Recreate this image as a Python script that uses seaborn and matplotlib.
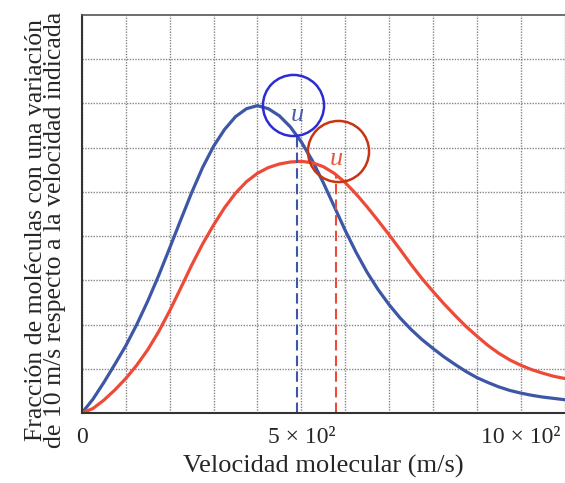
import numpy as np
import pandas as pd
import seaborn as sns
import matplotlib.pyplot as plt

# ---- data (y in grid units) ----
speed = list(range(0, 1101, 25))
frac_blue = [0, 0.31, 0.69, 1.10, 1.52, 2.00, 2.53, 3.11, 3.73, 4.36, 4.98, 5.55,
             6.03, 6.41, 6.70, 6.88, 6.95, 6.88, 6.72, 6.47, 6.13, 5.71, 5.21, 4.67,
             4.13, 3.63, 3.18, 2.79, 2.45, 2.15, 1.89, 1.66, 1.46, 1.27, 1.10, 0.94,
             0.80, 0.69, 0.59, 0.51, 0.45, 0.40, 0.36, 0.33, 0.30]
frac_red = [0, 0.10, 0.29, 0.52, 0.78, 1.08, 1.43, 1.84, 2.31, 2.82, 3.34, 3.82,
            4.25, 4.64, 4.97, 5.23, 5.42, 5.55, 5.63, 5.675, 5.69, 5.66, 5.57, 5.42,
            5.21, 4.95, 4.66, 4.35, 4.03, 3.70, 3.36, 3.04, 2.75, 2.47, 2.21, 1.96,
            1.74, 1.53, 1.35, 1.20, 1.08, 0.98, 0.90, 0.83, 0.78]

u_speed = [490, 580]          # rms speed markers (blue, red)
u_height = [6.27, 5.37]       # where the dashed line meets the curve
circle_x = [480, 584]
circle_y = [6.97, 5.93]
label_y = [6.73, 5.75]

xtick_pos = [0, 500, 1000]
xtick_labels = ["0", "5 × 10²", "10 × 10²"]

curve_colors = ["#3d57a6", "#ee4a38"]
circle_colors = ["#2c2cd2", "#c93410"]
text_colors = ["#4a5fa8", "#e8573f"]

df = pd.DataFrame({
    "speed": speed * 2,
    "frac": frac_blue + frac_red,
    "gas": ["blue"] * len(speed) + ["red"] * len(speed),
})

sns.set_style("white")
plt.rcParams["font.family"] = ["Liberation Serif", "DejaVu Serif"]

fig = plt.figure(figsize=(5.65, 4.83), dpi=100)
ax = fig.add_axes([0.145, 0.145, 0.855, 0.824])

# grid
ax.set_xticks(np.arange(100, 1101, 100), minor=True)
ax.set_yticks(np.arange(1, 9))
ax.set_yticklabels([])
ax.grid(True, which="both", color="#858585", linestyle=(0, (1, 1)), linewidth=1.0)
ax.set_axisbelow(True)

sns.lineplot(data=df, x="speed", y="frac", hue="gas", palette=curve_colors,
             linewidth=2.3, legend=False, ax=ax)

for i in range(2):
    ax.plot([u_speed[i], u_speed[i]], [0, u_height[i]], color=curve_colors[i],
            linewidth=1.5, dashes=(5, 2.5))
    ax.plot(circle_x[i], circle_y[i], "o", markersize=44, markerfacecolor="none",
            markeredgecolor=circle_colors[i], markeredgewidth=1.8, clip_on=False)
    ax.text(u_speed[i], label_y[i], "u", color=text_colors[i], fontsize=19,
            style="italic", ha="center", va="center")

ax.set_xlim(0, 1101)
ax.set_ylim(0, 9)
ax.set_xticks(xtick_pos)
ax.set_xticklabels(xtick_labels, fontsize=17)
ax.tick_params(axis="x", which="major", direction="out", length=5, width=1.2,
               color="#333333", pad=5)
ax.tick_params(axis="x", which="minor", length=0)
ax.tick_params(axis="y", length=0)

ax.set_xlabel("Velocidad molecular (m/s)", fontsize=19, labelpad=5)
ax.set_ylabel("Fracción de moléculas con una variación\n"
              "de 10 m/s respecto a la velocidad indicada",
              fontsize=18.5, linespacing=0.85)
ax.yaxis.set_label_coords(-0.032, 0.46)

for side in ["left", "bottom"]:
    ax.spines[side].set_color("#333333")
    ax.spines[side].set_linewidth(1.5)
ax.spines["top"].set_color("#555555")
ax.spines["top"].set_linewidth(1.2)
ax.spines["right"].set_visible(False)

fig.savefig("out.png", dpi=100)
